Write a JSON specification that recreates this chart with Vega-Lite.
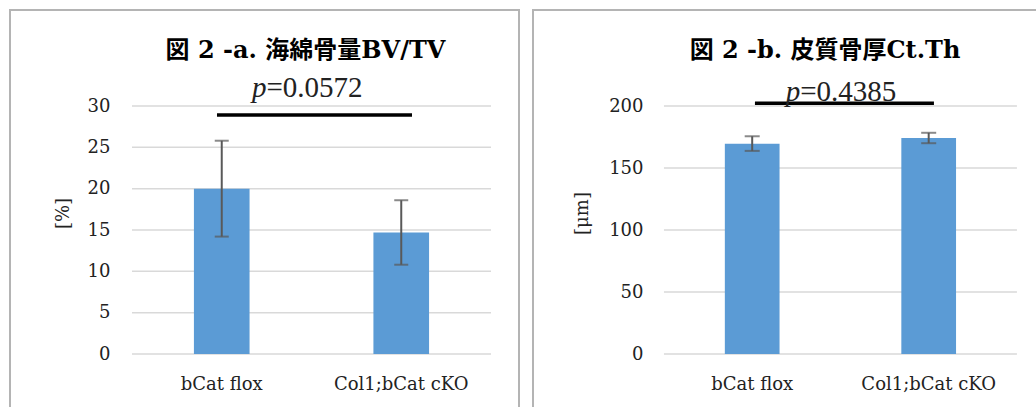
{
  "$schema": "https://vega.github.io/schema/vega-lite/v6.json",
  "padding": {"left": 9, "top": 9, "right": 0, "bottom": 0},
  "background": "white",
  "spacing": 12,
  "config": {
    "view": {"stroke": "#b4b4b4", "strokeWidth": 2},
    "axis": {"labelFont": "DejaVu Serif", "labelFontSize": 18, "labelColor": "#222222", "titleFont": "DejaVu Serif", "titleFontSize": 18, "titleFontWeight": "normal", "titleColor": "#222222"}
  },
  "datasets": {
    "bvtv": [
      {"group": "bCat flox", "value": 20.0, "lo": 14.2, "hi": 25.8},
      {"group": "Col1;bCat cKO", "value": 14.7, "lo": 10.8, "hi": 18.6}
    ],
    "ctth": [
      {"group": "bCat flox", "value": 169.6, "lo": 163.8, "hi": 175.6},
      {"group": "Col1;bCat cKO", "value": 174.2, "lo": 170.0, "hi": 178.4}
    ],
    "sigA": [{"from": "bCat flox", "to": "Col1;bCat cKO", "p": "p", "rest": "=0.0572"}],
    "sigB": [{"from": "bCat flox", "to": "Col1;bCat cKO", "p": "p", "rest": "=0.4385"}],
    "gridA": [
      {"v": 0, "from": "bCat flox", "to": "Col1;bCat cKO"},
      {"v": 5, "from": "bCat flox", "to": "Col1;bCat cKO"},
      {"v": 10, "from": "bCat flox", "to": "Col1;bCat cKO"},
      {"v": 15, "from": "bCat flox", "to": "Col1;bCat cKO"},
      {"v": 20, "from": "bCat flox", "to": "Col1;bCat cKO"},
      {"v": 25, "from": "bCat flox", "to": "Col1;bCat cKO"},
      {"v": 30, "from": "bCat flox", "to": "Col1;bCat cKO"}
    ],
    "gridB": [
      {"v": 0, "from": "bCat flox", "to": "Col1;bCat cKO"},
      {"v": 50, "from": "bCat flox", "to": "Col1;bCat cKO"},
      {"v": 100, "from": "bCat flox", "to": "Col1;bCat cKO"},
      {"v": 150, "from": "bCat flox", "to": "Col1;bCat cKO"},
      {"v": 200, "from": "bCat flox", "to": "Col1;bCat cKO"}
    ]
  },
  "hconcat": [
    {
      "width": 509,
      "height": 406,
      "title": {"text": "図 2 -a. 海綿骨量BV/TV", "font": "DejaVu Serif, Noto Sans CJK JP", "fontSize": 24, "fontWeight": "bold", "color": "#000000", "anchor": "middle", "baseline": "alphabetic", "offset": -72, "dx": 41},
      "layer": [
        {
          "data": {"name": "gridA"},
          "mark": {"type": "rule", "color": "#d9d9d9", "strokeWidth": 1.5},
          "encoding": {
            "x": {"field": "from", "type": "nominal", "bandPosition": 0, "scale": {"type": "band", "domain": ["bCat flox", "Col1;bCat cKO"], "paddingInner": 0, "paddingOuter": 0.4178, "align": 0.8133}, "axis": {"title": null, "grid": false, "ticks": false, "tickSize": 0, "domain": false, "offset": -62, "labelPadding": 35, "labelBaseline": "alphabetic", "labelAngle": 0}},
            "x2": {"field": "to", "bandPosition": 1},
            "y": {"field": "v", "type": "quantitative", "scale": {"domain": [-7.5, 41.613], "nice": false, "zero": false}, "axis": {"values": [0, 5, 10, 15, 20, 25, 30], "grid": false, "ticks": false, "tickSize": 0, "domain": false, "offset": -122, "labelPadding": 22, "title": "[%]", "titlePadding": 15}}
          }
        },
        {
          "data": {"name": "bvtv"},
          "mark": {"type": "bar", "color": "#5b9bd5", "width": {"band": 0.31}},
          "encoding": {
            "x": {"field": "group", "type": "nominal"},
            "y": {"field": "value", "type": "quantitative"},
            "y2": {"datum": 0}
          }
        },
        {
          "data": {"name": "bvtv"},
          "mark": {"type": "rule", "color": "#595959", "strokeWidth": 2},
          "encoding": {
            "x": {"field": "group", "type": "nominal"},
            "y": {"field": "lo", "type": "quantitative"},
            "y2": {"field": "hi"}
          }
        },
        {
          "data": {"name": "bvtv"},
          "mark": {"type": "tick", "color": "#595959", "thickness": 2, "size": 14},
          "encoding": {
            "x": {"field": "group", "type": "nominal"},
            "y": {"field": "lo", "type": "quantitative"}
          }
        },
        {
          "data": {"name": "bvtv"},
          "mark": {"type": "tick", "color": "#595959", "thickness": 2, "size": 14},
          "encoding": {
            "x": {"field": "group", "type": "nominal"},
            "y": {"field": "hi", "type": "quantitative"}
          }
        },
        {
          "data": {"name": "sigA"},
          "mark": {"type": "rule", "color": "#000000", "strokeWidth": 3.5, "xOffset": -4.75, "x2Offset": 10.75},
          "encoding": {
            "x": {"field": "from", "type": "nominal"},
            "x2": {"field": "to"},
            "y": {"datum": 28.9}
          }
        },
        {
          "data": {"name": "sigA"},
          "mark": {"type": "text", "font": "Liberation Serif", "fontStyle": "italic", "fontSize": 29, "align": "right", "baseline": "alphabetic", "dx": 44.75, "color": "#222222"},
          "encoding": {
            "x": {"field": "from", "type": "nominal"},
            "y": {"datum": 31.09},
            "text": {"field": "p"}
          }
        },
        {
          "data": {"name": "sigA"},
          "mark": {"type": "text", "font": "Liberation Serif", "fontSize": 29, "align": "left", "baseline": "alphabetic", "dx": 44.75, "color": "#222222"},
          "encoding": {
            "x": {"field": "from", "type": "nominal"},
            "y": {"datum": 31.09},
            "text": {"field": "rest"}
          }
        }
      ]
    },
    {
      "width": 510,
      "height": 406,
      "title": {"text": "図 2 -b. 皮質骨厚Ct.Th", "font": "DejaVu Serif, Noto Sans CJK JP", "fontSize": 24, "fontWeight": "bold", "color": "#000000", "anchor": "middle", "baseline": "alphabetic", "offset": -72, "dx": 37},
      "layer": [
        {
          "data": {"name": "gridB"},
          "mark": {"type": "rule", "color": "#d9d9d9", "strokeWidth": 1.5},
          "encoding": {
            "x": {"field": "from", "type": "nominal", "bandPosition": 0, "scale": {"type": "band", "domain": ["bCat flox", "Col1;bCat cKO"], "paddingInner": 0, "paddingOuter": 0.4448, "align": 0.834}, "axis": {"title": null, "grid": false, "ticks": false, "tickSize": 0, "domain": false, "offset": -62, "labelPadding": 35, "labelBaseline": "alphabetic", "labelAngle": 0}},
            "x2": {"field": "to", "bandPosition": 1},
            "y": {"field": "v", "type": "quantitative", "scale": {"domain": [-50, 277.42], "nice": false, "zero": false}, "axis": {"values": [0, 50, 100, 150, 200], "grid": false, "ticks": false, "tickSize": 0, "domain": false, "offset": -131, "labelPadding": 21, "title": "[μm]", "titlePadding": 17}}
          }
        },
        {
          "data": {"name": "ctth"},
          "mark": {"type": "bar", "color": "#5b9bd5", "width": {"band": 0.31}},
          "encoding": {
            "x": {"field": "group", "type": "nominal"},
            "y": {"field": "value", "type": "quantitative"},
            "y2": {"datum": 0}
          }
        },
        {
          "data": {"name": "ctth"},
          "mark": {"type": "rule", "color": "#595959", "strokeWidth": 2},
          "encoding": {
            "x": {"field": "group", "type": "nominal"},
            "y": {"field": "lo", "type": "quantitative"},
            "y2": {"field": "hi"}
          }
        },
        {
          "data": {"name": "ctth"},
          "mark": {"type": "tick", "color": "#595959", "thickness": 2, "size": 15},
          "encoding": {
            "x": {"field": "group", "type": "nominal"},
            "y": {"field": "lo", "type": "quantitative"}
          }
        },
        {
          "data": {"name": "ctth"},
          "mark": {"type": "tick", "color": "#595959", "thickness": 2, "size": 15},
          "encoding": {
            "x": {"field": "group", "type": "nominal"},
            "y": {"field": "hi", "type": "quantitative"}
          }
        },
        {
          "data": {"name": "sigB"},
          "mark": {"type": "rule", "color": "#000000", "strokeWidth": 3.5, "xOffset": 2.75, "x2Offset": 5.25},
          "encoding": {
            "x": {"field": "from", "type": "nominal"},
            "x2": {"field": "to"},
            "y": {"datum": 202.2}
          }
        },
        {
          "data": {"name": "sigB"},
          "mark": {"type": "text", "font": "Liberation Serif", "fontStyle": "italic", "fontSize": 29, "align": "right", "baseline": "alphabetic", "dx": 48, "color": "#222222"},
          "encoding": {
            "x": {"field": "from", "type": "nominal"},
            "y": {"datum": 204.3},
            "text": {"field": "p"}
          }
        },
        {
          "data": {"name": "sigB"},
          "mark": {"type": "text", "font": "Liberation Serif", "fontSize": 29, "align": "left", "baseline": "alphabetic", "dx": 48, "color": "#222222"},
          "encoding": {
            "x": {"field": "from", "type": "nominal"},
            "y": {"datum": 204.3},
            "text": {"field": "rest"}
          }
        }
      ]
    }
  ]
}
